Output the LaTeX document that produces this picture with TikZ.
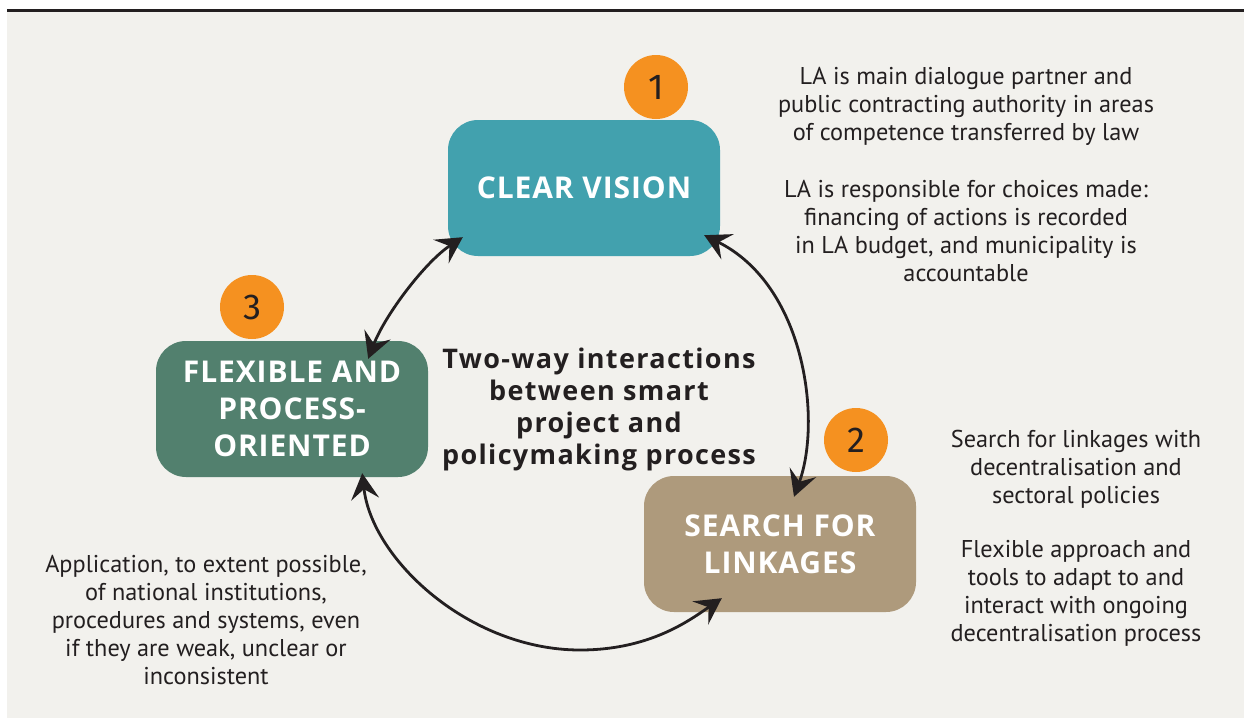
\documentclass[tikz,border=0pt]{standalone}
\usepackage{fontspec}
\setmainfont{PT Sans}
\newfontfamily\headfont[LetterSpace=5]{Open Sans}
\newfontfamily\labfont[LetterSpace=3]{Open Sans}
\newfontfamily\numfont{Fira Sans}
\usetikzlibrary{arrows.meta,calc}
\definecolor{bgpanel}{HTML}{F2F1ED}
\definecolor{cvteal}{HTML}{42A1AE}
\definecolor{fpsage}{HTML}{52806E}
\definecolor{sltan}{HTML}{AE9A7C}
\definecolor{numorange}{HTML}{F59120}
\definecolor{ink}{HTML}{231F20}
\tikzset{
  box/.style={rounded corners=30pt, minimum width=272pt, minimum height=136pt, text=white, align=center,
    font=\labfont\bfseries\fontsize{30}{37}\selectfont, inner sep=0pt},
  num/.style={circle, fill=numorange, minimum size=64pt, inner sep=0pt, font=\numfont\fontsize{36}{36}\selectfont, text=ink},
  body/.style={align=center, font=\fontsize{24.3}{28}\selectfont, text=ink, inner sep=0pt},
  central/.style={align=center, font=\headfont\bfseries\fontsize{27}{32}\selectfont, text=ink, inner sep=0pt},
  arr/.style={line width=2.8pt, draw=ink, {Stealth[length=26pt,width=28pt,inset=10pt]}-{Stealth[length=26pt,width=28pt,inset=10pt]}}
}
\begin{document}
\begin{tikzpicture}[x=1pt,y=-1pt]
\useasboundingbox (0,0) rectangle (1244,718);
\fill[white] (0,0) rectangle (1244,718);
\fill[bgpanel] (7,12) rectangle (1244,718);
\draw[line width=3pt, ink] (7,10.5) -- (1244,10.5);

\node[box, fill=cvteal] (cv) at (584,188) {CLEAR VISION};
\node[box, fill=fpsage] (fp) at (292,409) {FLEXIBLE AND\\PROCESS-\\ORIENTED};
\node[box, fill=sltan] (sl) at (780,544) {SEARCH FOR\\LINKAGES};

\node[num] (n1) at (656,87) {1};
\node[num] (n2) at (856,440) {2};
\node[num] (n3) at (252,307) {3};

\node[central] (mid) at (599,409) {Two-way interactions\\between smart\\project and\\policymaking process};

\node[body] (t1) at (966,106) {LA is main dialogue partner and\\public contracting authority in areas\\of competence transferred by law};
\node[body] (t2) at (966,231) {LA is responsible for choices made:\\financing of actions is recorded\\in LA budget, and municipality is\\accountable};
\node[body] (t3) at (1076,469) {Search for linkages with\\decentralisation and\\sectoral policies};
\node[body] (t4) at (1076,593) {Flexible approach and\\tools to adapt to and\\interact with ongoing\\decentralisation process};
\node[body] (t5) at (206,620) {Application, to extent possible,\\of national institutions,\\procedures and systems, even\\if they are weak, unclear or\\inconsistent};

\draw[arr] ([shift={(-60,18)}]fp.north east) .. controls (385,315) and (425,262) .. ([shift={(15,-19)}]cv.south west);
\draw[arr] ([shift={(-16,-21)}]cv.south east) .. controls (805,285) and (822,420) .. ([shift={(14,21)}]sl.north);
\draw[arr] ([shift={(-66,-4)}]fp.south east) .. controls (372,560) and (470,650) .. (580,650) .. controls (650,650) and (690,620) .. ([shift={(78,-14)}]sl.south west);
\end{tikzpicture}
\end{document}
